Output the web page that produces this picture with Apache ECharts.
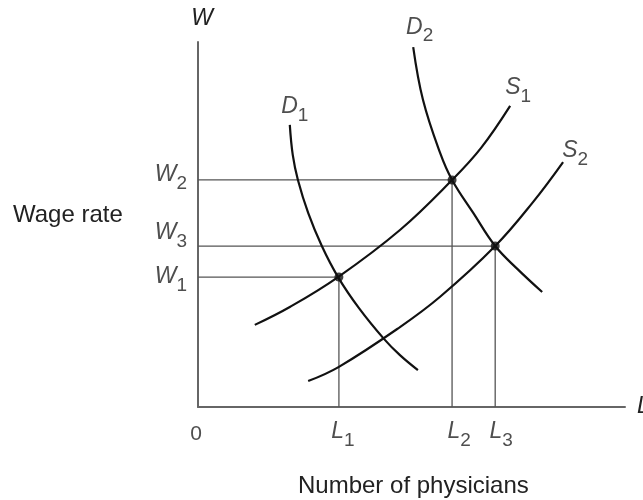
<!DOCTYPE html>
<html><head><meta charset="utf-8">
<script src="https://cdn.jsdelivr.net/npm/echarts@6/dist/echarts.min.js"></script>
<style>html,body{margin:0;padding:0;background:#fff}#c{width:643px;height:500px}</style>
</head><body><div id="c"></div>
<script>
// Equilibrium points (index 0 -> subscript 1, etc.)
const eqSub = ['1', '2', '3'];
const eqL = [33.0, 59.5, 69.6];
const eqW = [35.6, 62.2, 44.1];

// Curves [L, W]
const curveD1 = [[21.5,77.3],[22.2,69.0],[23.4,62.2],[25.8,53.2],[29.0,44.1],[32.8,35.6],[37.7,27.1],[43.6,18.6],[47.3,14.2],[51.5,10.1]];
const curveD2 = [[50.4,98.6],[52.7,84.1],[56.7,69.6],[59.5,62.2],[64.5,53.1],[69.6,44.1],[74.9,37.7],[80.6,31.5]];
const curveS1 = [[13.3,22.5],[21.5,27.4],[32.8,35.6],[47.3,48.5],[59.5,62.2],[66.3,71.0],[73.1,82.5]];
const curveS2 = [[25.8,7.1],[33.0,11.0],[47.3,21.9],[56.7,30.2],[69.6,44.1],[78.5,56.2],[85.5,67.1]];

const axisNameX = 'L';
const axisNameY = 'W';
const titleY = 'Wage rate';
const titleX = 'Number of physicians';

const FONT = '"Liberation Sans", Arial, Helvetica, sans-serif';
const TXT = '#222';
const rich = {
  w: {fontFamily: FONT, fontStyle: 'italic', fontSize: 23, lineHeight: 30, verticalAlign: 'top', color: TXT},
  s: {fontFamily: FONT, fontSize: 19, lineHeight: 19, verticalAlign: 'bottom', color: TXT},
  n: {fontFamily: FONT, fontSize: 21, lineHeight: 30, color: TXT}
};
const sym = (letter, sub) => '{w|' + letter + '}{s|' + sub + '}';

const chart = echarts.init(document.getElementById('c'), null, {renderer: 'canvas'});

const series = [];
const curveStyle = {color: '#111', width: 2.2};
[curveD1, curveD2, curveS1, curveS2].forEach(c => {
  series.push({type: 'line', data: c, smooth: 0.4, showSymbol: false, symbol: 'none',
    lineStyle: curveStyle, silent: true, z: 3});
});
// guide lines
eqL.forEach((l, i) => {
  series.push({type: 'line', data: [[0, eqW[i]], [l, eqW[i]]], showSymbol: false, symbol: 'none',
    lineStyle: {color: '#555', width: 1.3}, silent: true, z: 2});
  series.push({type: 'line', data: [[l, 0], [l, eqW[i]]], showSymbol: false, symbol: 'none',
    lineStyle: {color: '#555', width: 1.3}, silent: true, z: 2});
});
// equilibrium dots
series.push({type: 'scatter', data: eqL.map((l, i) => [l, eqW[i]]), symbolSize: 9,
  itemStyle: {color: '#111'}, silent: true, z: 5});

// labels
const yOffsets = [[-27, 3], [-27, -2], [-27, -9.5]];
const xOffsets = [[4, 28], [7, 28], [6, 28]];
const labelData = [];
eqL.forEach((l, i) => {
  labelData.push({value: [0, eqW[i]], label: {formatter: sym('W', eqSub[i]), offset: yOffsets[i]}});
  labelData.push({value: [l, 0], label: {formatter: sym('L', eqSub[i]), offset: xOffsets[i]}});
});
labelData.push({value: [0, 0], label: {formatter: '{n|0}', offset: [-2, 27]}});
labelData.push({value: curveD1[0], label: {formatter: sym('D', '1'), offset: [5, -15]}});
labelData.push({value: curveD2[0], label: {formatter: sym('D', '2'), offset: [6.5, -16.5]}});
labelData.push({value: curveS1[curveS1.length - 1], label: {formatter: sym('S', '1'), offset: [8, -14.5]}});
labelData.push({value: curveS2[curveS2.length - 1], label: {formatter: sym('S', '2'), offset: [12, -7.5]}});
series.push({type: 'scatter', data: labelData, symbolSize: 1, itemStyle: {color: 'rgba(0,0,0,0)'},
  silent: true, z: 6,
  label: {show: true, position: 'inside', rich: rich}});

chart.setOption({
  animation: false,
  backgroundColor: '#fff',
  title: [
    {text: titleY, left: 13, top: 203, padding: 0,
      textStyle: {fontFamily: FONT, fontSize: 24, fontWeight: 'normal', color: TXT}},
    {text: titleX, left: 298, top: 474, padding: 0,
      textStyle: {fontFamily: FONT, fontSize: 24, fontWeight: 'normal', color: TXT}}
  ],
  grid: {left: 198, top: 42, right: 18, bottom: 93, containLabel: false, outerBoundsMode: 'none'},
  xAxis: {type: 'value', min: 0, max: 100,
    axisLine: {show: true, lineStyle: {color: '#666', width: 2}},
    axisTick: {show: false}, axisLabel: {show: false}, splitLine: {show: false},
    name: axisNameX, nameLocation: 'end', nameGap: 12,
    nameTextStyle: {fontFamily: FONT, fontStyle: 'italic', fontSize: 23, color: TXT, verticalAlign: 'middle', padding: [0, 0, 6, 0]}},
  yAxis: {type: 'value', min: 0, max: 100,
    axisLine: {show: true, lineStyle: {color: '#666', width: 2}},
    axisTick: {show: false}, axisLabel: {show: false}, splitLine: {show: false},
    name: axisNameY, nameLocation: 'end', nameGap: 12,
    nameTextStyle: {fontFamily: FONT, fontStyle: 'italic', fontSize: 23, color: TXT, padding: [0, 0, 0, 8]}},
  series: series
});
</script></body></html>
